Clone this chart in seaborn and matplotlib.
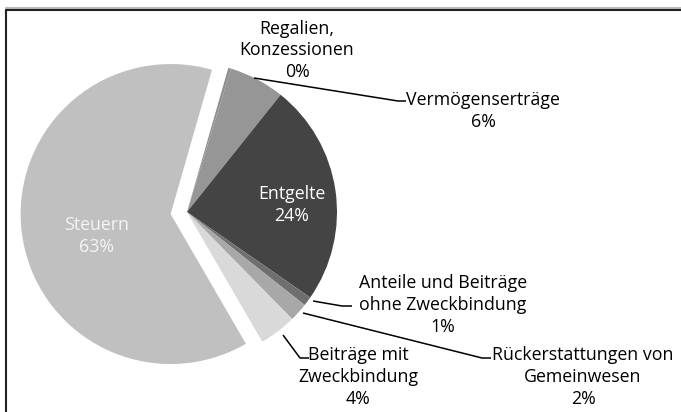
import matplotlib
matplotlib.use("Agg")
import matplotlib.pyplot as plt
import seaborn as sns

sns.set_theme(style="white")
plt.rcParams["font.family"] = ["Open Sans", "DejaVu Sans"]

categories = ["Regalien,\nKonzessionen", "Vermögenserträge", "Entgelte",
              "Anteile und Beiträge\nohne Zweckbindung", "Rückerstattungen von\nGemeinwesen",
              "Beiträge mit\nZweckbindung", "Steuern"]
shares = [0.3, 6, 24, 1, 2, 4, 63]
pct_labels = ["0%", "6%", "24%", "1%", "2%", "4%", "63%"]
colors = ["#8e8e8e", "#969696", "#444444", "#6f6f6f", "#a8a8a8", "#d9d9d9", "#c0c0c0"]
explode_frac = [0, 0, 0, 0, 0, 0, 0.11]

W, H = 681, 412
R = 150
fig = plt.figure(figsize=(W / 100, H / 100), dpi=100)
ax = fig.add_axes([0, 0, 1, 1])


def py(y):
    return H - y


# explode in matplotlib is an absolute offset in data units
ax.pie(shares, colors=colors, explode=[e * R for e in explode_frac], startangle=74,
       counterclock=False, center=(187, py(212)), radius=R, frame=True,
       wedgeprops=dict(linewidth=0))
ax.set_xlim(0, W)
ax.set_ylim(0, H)
ax.set_aspect("equal")
ax.axis("off")

fs = 12.8
ls = 1.25
# labels inside
ax.text(97, py(236), categories[6] + "\n" + pct_labels[6], ha="center", va="center",
        fontsize=fs, color="#f4f4f4", linespacing=ls)
ax.text(292, py(205), categories[2] + "\n" + pct_labels[2], ha="center", va="center",
        fontsize=fs, color="white", linespacing=ls)

# outside labels
outside = [
    (0, 297, 50),
    (1, 483, 111),
    (3, 443, 305),
    (4, 583, 377),
    (5, 358, 377),
]
for i, x, y in outside:
    ax.text(x, py(y), categories[i] + "\n" + pct_labels[i], ha="center", va="center",
            fontsize=fs, color="black", linespacing=ls)

# leader lines
leaders = [
    [(254, 78), (398, 101), (406, 101)],
    [(313, 301), (342, 306), (352, 306)],
    [(303, 313), (482, 358), (491, 358)],
    [(283, 335), (300, 358), (309, 358)],
]
for pts in leaders:
    ax.plot([p[0] for p in pts], [py(p[1]) for p in pts], color="black", lw=1.1,
            solid_capstyle="butt")

# frame lines
ax.plot([6, W], [py(7.5), py(7.5)], color="#bbbbbb", lw=1.5)
ax.plot([6, W], [py(10), py(10)], color="#222222", lw=1.5)
ax.plot([6, 6], [py(10), 0], color="#222222", lw=1.5)

fig.savefig("out.png", dpi=100)
